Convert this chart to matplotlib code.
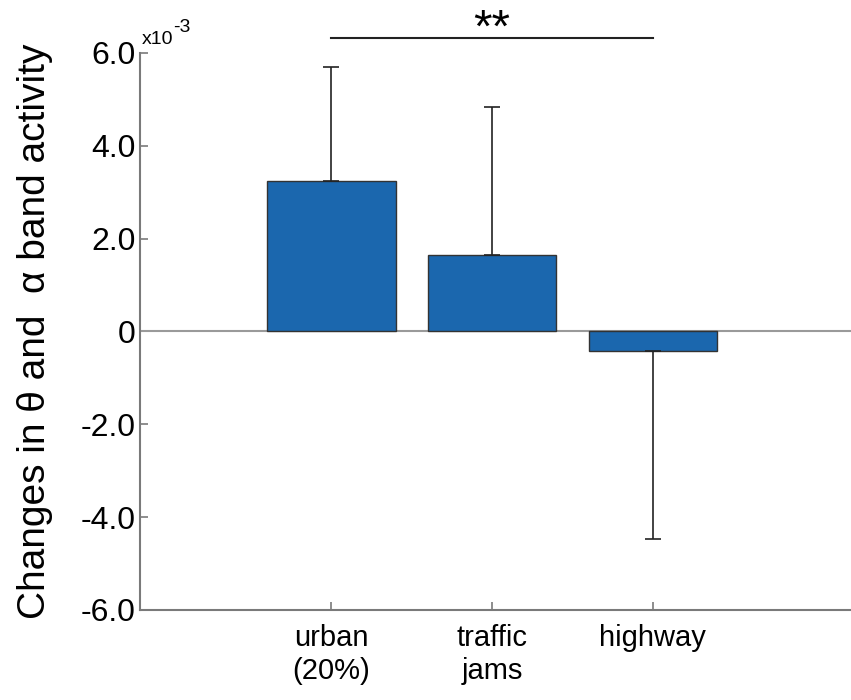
import matplotlib
matplotlib.use("Agg")
import matplotlib.pyplot as plt

# Data (units of 1e-3)
conditions = ["urban\n(20%)", "traffic\njams", "highway"]
mean_change = [3.24, 1.64, -0.41]
err_change = [2.46, 3.20, 4.06]
yticks = [-6.0, -4.0, -2.0, 0.0, 2.0, 4.0, 6.0]
ytick_labels = ["-6.0", "-4.0", "-2.0", "0", "2.0", "4.0", "6.0"]
sig_pair = (0, 2)
sig_text = "**"

plt.rcParams['font.family'] = ['Liberation Sans', 'DejaVu Sans']

bar_col = "#1b67ae"
axis_col = "#7a7a7a"

fig = plt.figure(figsize=(8.51, 7.0), dpi=100)
ax = fig.add_axes([0.1645, 0.1286, 0.835, 0.7957])

x = list(range(len(conditions)))
ax.bar(x, mean_change, width=0.8, color=bar_col, edgecolor="#333333", linewidth=1.0, zorder=3)

# one-sided error bars
lower = [0 if m >= 0 else e for m, e in zip(mean_change, err_change)]
upper = [e if m >= 0 else 0 for m, e in zip(mean_change, err_change)]
ax.errorbar(x, mean_change, yerr=[lower, upper], fmt="none", ecolor="#222222",
            elinewidth=1.2, capsize=6, capthick=1.2, zorder=4)

ax.axhline(0, color="#9a9a9a", linewidth=1.5, zorder=2)

ax.set_xlim(-1.19, 3.23)
ax.set_ylim(-6.0, 6.0)
ax.set_xticks(x)
ax.set_xticklabels(conditions, fontsize=21, linespacing=1.25)
ax.set_yticks(yticks)
ax.set_yticklabels(ytick_labels, fontsize=23)
ax.tick_params(direction="in", color=axis_col, length=6, width=1.2)
ax.tick_params(axis="x", pad=10)
ax.tick_params(axis="y", pad=3)

for s in ["top", "right"]:
    ax.spines[s].set_visible(False)
for s in ["left", "bottom"]:
    ax.spines[s].set_color(axis_col)
    ax.spines[s].set_linewidth(1.5)

ax.set_ylabel("Changes in \u03b8 and  \u03b1 band activity", fontsize=28, labelpad=20)

# scale factor above the y axis
ax.text(0.003, 6.2, "x10", fontsize=14, ha="left", va="baseline",
        transform=ax.get_yaxis_transform(), clip_on=False)
ax.text(0.046, 6.46, "-3", fontsize=14, ha="left", va="baseline",
        transform=ax.get_yaxis_transform(), clip_on=False)

# significance bracket
y_sig = 6.32
ax.plot([sig_pair[0], sig_pair[1]], [y_sig, y_sig], color="#222222", lw=1.5, clip_on=False)
ax.text((sig_pair[0] + sig_pair[1]) / 2, y_sig - 0.3, sig_text, ha="center", va="bottom",
        fontsize=34, clip_on=False)

fig.savefig("out.png", dpi=100)
